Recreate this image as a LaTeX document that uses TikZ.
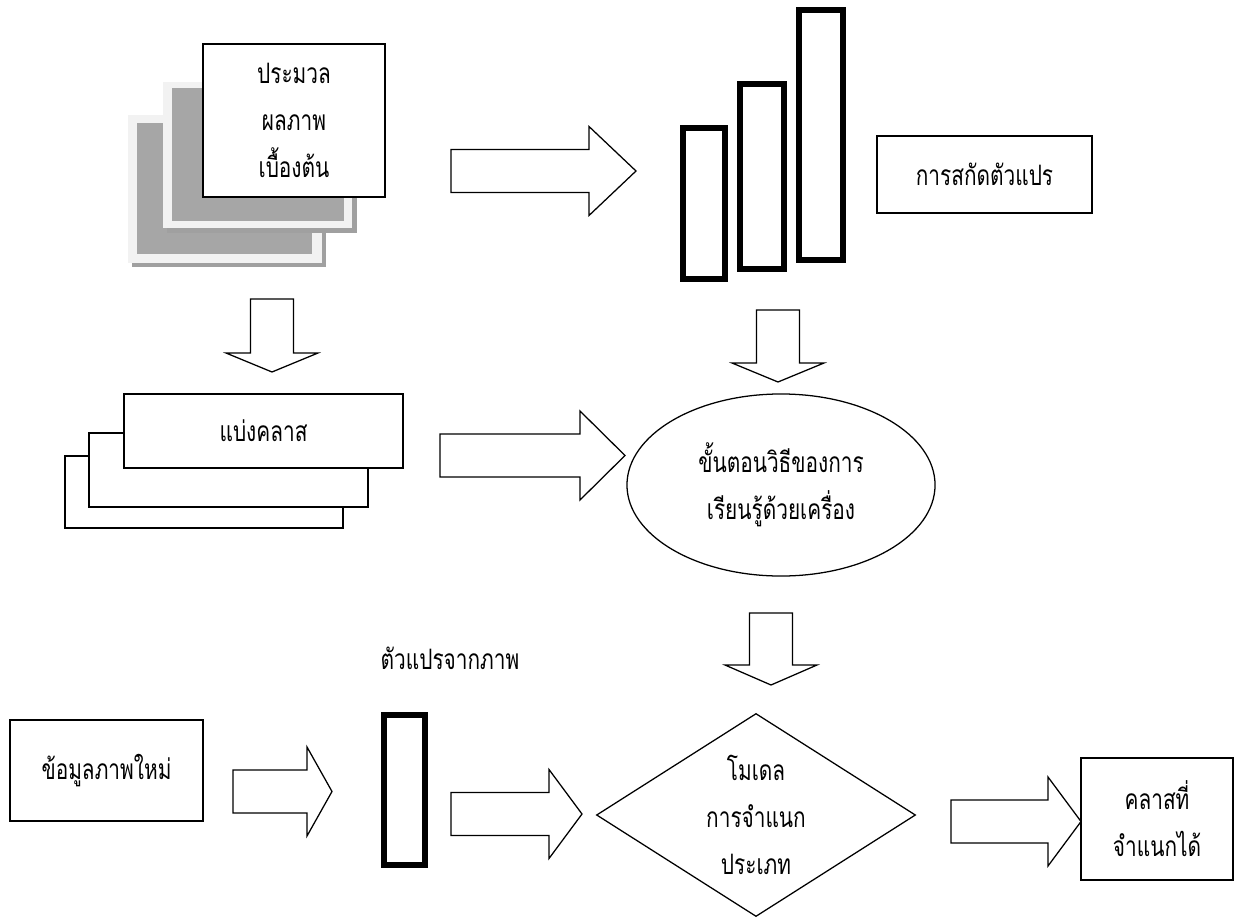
\documentclass[tikz,border=0pt]{standalone}
\usepackage{fontspec}
\newfontfamily\thaifont[Script=Thai, FakeStretch=0.74]{Loma}
\usetikzlibrary{shapes.geometric}
\definecolor{pagelight}{HTML}{F2F2F2}
\definecolor{pagedark}{HTML}{A6A6A6}
\definecolor{pageshade}{HTML}{A0A0A0}
\tikzset{
  thai/.style={font=\thaifont\fontsize{20}{33.5}\selectfont},
  box/.style={
    draw, fill=white, line width=0.9pt,
    inner sep=0pt, align=center, thai
  },
  bar/.style={draw, fill=white, line width=4.3pt, inner sep=0pt},
  blockarr/.style={draw, fill=white, line width=0.9pt, line join=miter}
}
% block arrows: tail point, shaft centre, length, head length
\newcommand{\rightblock}[4]{%
  \draw[blockarr] (#1,#2-21.5) -- (#1+#3-#4,#2-21.5) -- (#1+#3-#4,#2-44.5)
    -- (#1+#3,#2) -- (#1+#3-#4,#2+44.5) -- (#1+#3-#4,#2+21.5) -- (#1,#2+21.5) -- cycle;}
\newcommand{\downblock}[4]{%
  \draw[blockarr] (#1-21.5,#2) -- (#1-21.5,#2+#3-#4) -- (#1-46,#2+#3-#4)
    -- (#1,#2+#3) -- (#1+46,#2+#3-#4) -- (#1+21.5,#2+#3-#4) -- (#1+21.5,#2) -- cycle;}

\begin{document}
\begin{tikzpicture}[x=0.025cm, y=-0.025cm]
    \useasboundingbox (0,0) rectangle (1234,919);

    % stacked pages
    \fill[pageshade] (132,119) rectangle (326,267);
    \fill[pagelight] (128,115) rectangle (322,263);
    \fill[pagedark] (137,123) rectangle (312,254);
    \fill[pageshade] (167,86) rectangle (357,233);
    \fill[pagelight] (163,82) rectangle (352,228);
    \fill[pagedark] (172,88) rectangle (344,221);
    \node[box, minimum width=4.55cm, minimum height=3.825cm] (raw) at (294,120.5)
      {ประมวล\\ผลภาพ\\เบื้องต้น};

    \rightblock{451}{171}{185}{47}

    % feature bars
    \node[bar, minimum width=1.05cm, minimum height=3.775cm] (bara) at (704,203.5) {};
    \node[bar, minimum width=1.1cm, minimum height=4.625cm] (barb) at (762,176.5) {};
    \node[bar, minimum width=1.1cm, minimum height=6.25cm] (barc) at (821,135) {};
    \node[box, minimum width=5.375cm, minimum height=1.925cm] (extract) at (984.5,174.5)
      {การสกัดตัวแปร};

    \downblock{272}{299}{73}{19}
    \downblock{778}{310}{72}{19}

    % class pages
    \node[box, minimum width=6.95cm, minimum height=1.8cm] (clsc) at (204,492) {};
    \node[box, minimum width=6.975cm, minimum height=1.85cm] (clsb) at (228.5,470) {};
    \node[box, minimum width=6.975cm, minimum height=1.85cm] (clsa) at (263.5,431)
      {แบ่งคลาส};

    \rightblock{440}{455.5}{185}{45}

    \node[box, ellipse, minimum width=7.7cm, minimum height=4.55cm] (learn) at (781,485)
      {ขั้นตอนวิธีของการ\\เรียนรู้ด้วยเครื่อง};

    \downblock{771}{613}{72}{20}

    % new image
    \node[thai] (featlabel) at (450,658) {ตัวแปรจากภาพ};
    \node[box, minimum width=4.825cm, minimum height=2.525cm] (newdata) at (106.5,770.5)
      {ข้อมูลภาพใหม่};
    \rightblock{233}{791.5}{99}{25}
    \node[bar, minimum width=1.025cm, minimum height=3.75cm] (bard) at (404.5,790) {};
    \rightblock{451}{814}{131}{33}

    \node[box, diamond, aspect=1.57, minimum width=7.975cm, minimum height=5.075cm] (model) at (756,815)
      {โมเดล\\การจำแนก\\ประเภท};

    \rightblock{951}{821.5}{130}{33}
    \node[box, minimum width=3.8cm, minimum height=3.05cm] (result) at (1157,819)
      {คลาสที่\\จำแนกได้};
  \end{tikzpicture}
\end{document}
